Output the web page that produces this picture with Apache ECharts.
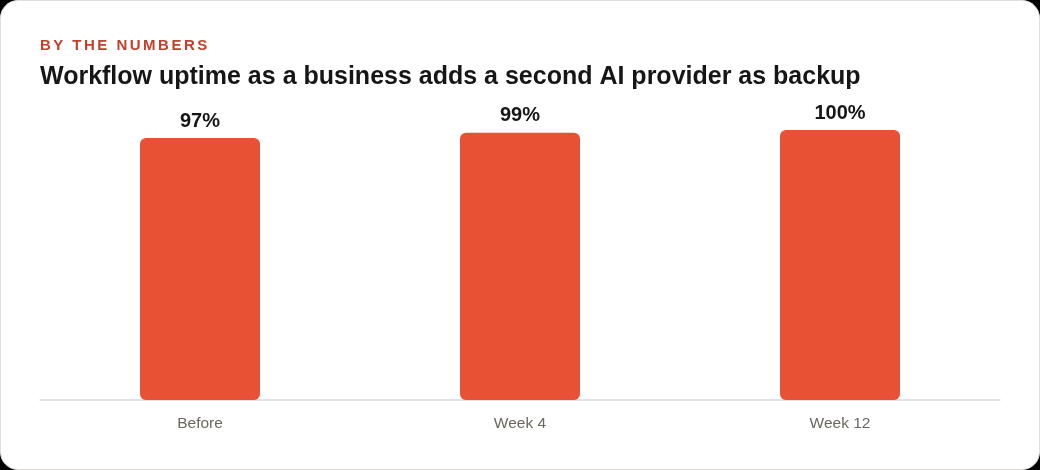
<!DOCTYPE html>
<html>
<head>
<meta charset="utf-8">
<script src="https://cdn.jsdelivr.net/npm/echarts@6/dist/echarts.min.js"></script>
<style>
  html, body { margin: 0; padding: 0; background: #000; }
  #card {
    position: relative; width: 1038px; height: 468px;
    background: #fff; border: 1px solid #e2dfda; border-radius: 18px; overflow: hidden;
  }
  #kicker {
    position: absolute; left: 39px; top: 35px;
    font: bold 15px "Liberation Sans", Arial, sans-serif;
    letter-spacing: 2.5px; color: #c4402b;
  }
  #chart { position: absolute; left: -1px; top: -1px; width: 1040px; height: 470px; }
</style>
</head>
<body>
<div id="card">
  <div id="chart"></div>
  <div id="kicker">BY THE NUMBERS</div>
</div>
<script>
// uptime per stage
var categories = ['Before', 'Week 4', 'Week 12'];
var uptime = [97, 99, 100];

var chart = echarts.init(document.getElementById('chart'));
var option = {
  animation: false,
  title: {
    text: 'Workflow uptime as a business adds a second AI provider as backup',
    left: 40, top: 65, padding: 0,
    textStyle: { fontFamily: 'Liberation Sans', fontWeight: 'bold', fontSize: 25, color: '#161616' }
  },
  grid: { left: 40, right: 40, top: 130, bottom: 70 },
  xAxis: {
    type: 'category',
    data: categories,
    axisLine: { lineStyle: { color: '#dcd9d4', width: 1.5 } },
    axisTick: { show: false },
    axisLabel: { color: '#6b6760', fontSize: 15.5, fontFamily: 'Liberation Sans', margin: 16 }
  },
  yAxis: {
    type: 'value', min: 0, max: 100,
    show: false
  },
  series: [{
    type: 'bar',
    data: uptime,
    barWidth: 120,
    itemStyle: { color: '#e85134', borderRadius: 6 },
    label: {
      show: true, position: 'top', distance: 7,
      formatter: '{c}%',
      color: '#161616', fontSize: 20, fontWeight: 'bold', fontFamily: 'Liberation Sans'
    }
  }]
};
chart.setOption(option);
</script>
</body>
</html>
